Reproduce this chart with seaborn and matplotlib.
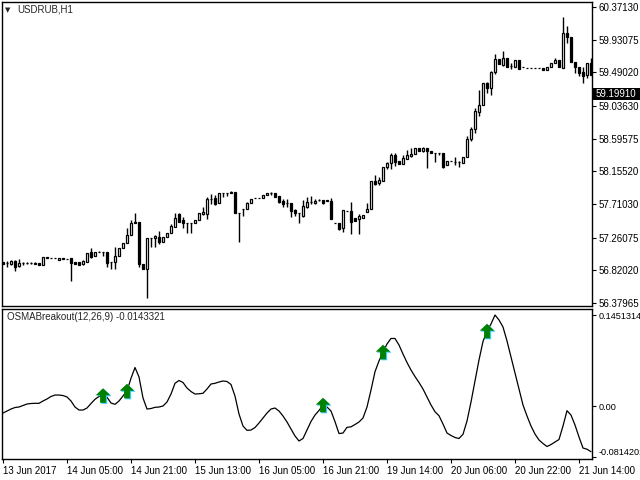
import matplotlib
matplotlib.use("Agg")
import matplotlib.pyplot as plt
import matplotlib.transforms as mtransforms
from matplotlib.path import Path
from matplotlib.patches import Rectangle
import numpy as np
import pandas as pd
import seaborn as sns

# USDRUB H1 candles (one per hour, 148 bars)
opens = [
    56.926, 56.917, 56.902, 56.950, 56.879, 56.915, 56.917, 56.915, 56.915, 56.915,
    56.892, 57.004, 56.991, 56.983, 56.960, 56.983, 56.969, 56.983, 56.937, 56.929,
    56.902, 56.937, 57.063, 57.018, 57.072, 57.072, 57.072, 56.937, 56.929, 57.014,
    57.126, 57.185, 57.297, 57.476, 57.476, 56.902, 56.834, 57.252, 57.252, 57.266,
    57.206, 57.266, 57.320, 57.401, 57.576, 57.499, 57.455, 57.455, 57.455, 57.499,
    57.580, 57.576, 57.778, 57.800, 57.724, 57.867, 57.867, 57.877, 57.881, 57.589,
    57.643, 57.643, 57.724, 57.792, 57.792, 57.792, 57.832, 57.859, 57.867, 57.823,
    57.759, 57.724, 57.732, 57.634, 57.589, 57.553, 57.678, 57.738, 57.728, 57.769,
    57.769, 57.769, 57.759, 57.455, 57.455, 57.387, 57.620, 57.620, 57.530, 57.508,
    57.530, 57.611, 57.643, 58.029, 57.994, 58.029, 58.210, 58.264, 58.376, 58.295,
    58.254, 58.318, 58.362, 58.389, 58.466, 58.434, 58.466, 58.434, 58.406, 58.406,
    58.406, 58.241, 58.299, 58.285, 58.285, 58.264, 58.353, 58.587, 58.722, 58.959,
    59.050, 59.350, 59.275, 59.499, 59.666, 59.589, 59.680, 59.576, 59.558, 59.657,
    59.558, 59.553, 59.553, 59.549, 59.545, 59.545, 59.522, 59.558, 59.612, 59.657,
    59.545, 60.017, 59.963, 59.634, 59.566, 59.499, 59.454, 59.612]
closes = [
    56.906, 56.915, 56.946, 56.865, 56.915, 56.917, 56.915, 56.915, 56.910, 56.892,
    57.004, 56.991, 56.983, 56.983, 56.983, 56.969, 56.973, 56.915, 56.902, 56.892,
    56.946, 57.058, 57.004, 57.072, 57.072, 57.072, 56.923, 56.937, 57.014, 57.126,
    57.193, 57.297, 57.463, 57.455, 56.902, 56.834, 57.252, 57.252, 57.283, 57.206,
    57.266, 57.320, 57.418, 57.522, 57.476, 57.455, 57.455, 57.455, 57.499, 57.589,
    57.607, 57.778, 57.778, 57.711, 57.867, 57.867, 57.867, 57.859, 57.597, 57.589,
    57.643, 57.724, 57.778, 57.792, 57.792, 57.836, 57.859, 57.859, 57.805, 57.746,
    57.711, 57.724, 57.624, 57.589, 57.589, 57.692, 57.738, 57.738, 57.759, 57.769,
    57.732, 57.751, 57.516, 57.455, 57.378, 57.634, 57.620, 57.476, 57.490, 57.553,
    57.562, 57.647, 58.025, 57.984, 58.038, 58.210, 58.272, 58.376, 58.285, 58.254,
    58.331, 58.376, 58.389, 58.466, 58.434, 58.466, 58.434, 58.406, 58.406, 58.406,
    58.218, 58.299, 58.299, 58.285, 58.285, 58.344, 58.587, 58.722, 58.969, 59.050,
    59.350, 59.275, 59.499, 59.666, 59.603, 59.680, 59.558, 59.576, 59.657, 59.531,
    59.558, 59.553, 59.553, 59.549, 59.545, 59.522, 59.558, 59.620, 59.657, 59.558,
    60.017, 59.963, 59.626, 59.558, 59.485, 59.441, 59.612, 59.454]
highs = [
    56.933, 56.946, 56.960, 56.960, 56.969, 56.939, 56.933, 56.933, 56.929, 56.915,
    57.004, 57.004, 56.991, 56.983, 56.987, 56.983, 56.973, 56.983, 56.937, 56.929,
    56.960, 57.058, 57.126, 57.072, 57.080, 57.072, 57.072, 56.937, 57.139, 57.126,
    57.193, 57.387, 57.499, 57.589, 57.476, 56.902, 57.252, 57.252, 57.297, 57.351,
    57.266, 57.320, 57.441, 57.589, 57.589, 57.535, 57.455, 57.455, 57.499, 57.589,
    57.678, 57.813, 57.850, 57.836, 57.867, 57.867, 57.867, 57.890, 57.881, 57.589,
    57.643, 57.746, 57.778, 57.792, 57.792, 57.836, 57.859, 57.877, 57.867, 57.823,
    57.778, 57.778, 57.732, 57.647, 57.589, 57.769, 57.805, 57.823, 57.778, 57.778,
    57.769, 57.769, 57.792, 57.455, 57.455, 57.634, 57.620, 57.738, 57.530, 57.576,
    57.562, 57.724, 58.025, 58.106, 58.083, 58.210, 58.285, 58.398, 58.406, 58.295,
    58.376, 58.443, 58.466, 58.466, 58.466, 58.479, 58.466, 58.434, 58.406, 58.406,
    58.406, 58.299, 58.299, 58.344, 58.299, 58.344, 58.632, 58.749, 59.005, 59.252,
    59.350, 59.364, 59.512, 59.737, 59.666, 59.778, 59.680, 59.612, 59.657, 59.657,
    59.558, 59.553, 59.553, 59.549, 59.545, 59.545, 59.558, 59.620, 59.680, 59.657,
    60.232, 60.115, 59.963, 59.634, 59.566, 59.558, 59.612, 59.680]
lows = [
    56.899, 56.869, 56.892, 56.811, 56.861, 56.892, 56.899, 56.899, 56.899, 56.892,
    56.892, 56.991, 56.983, 56.983, 56.960, 56.969, 56.969, 56.681, 56.902, 56.892,
    56.892, 56.937, 56.987, 57.018, 57.065, 57.014, 56.869, 56.834, 56.834, 57.014,
    57.126, 57.185, 57.297, 57.455, 56.861, 56.834, 56.443, 57.139, 57.139, 57.175,
    57.206, 57.266, 57.320, 57.401, 57.476, 57.387, 57.320, 57.328, 57.455, 57.499,
    57.566, 57.508, 57.711, 57.701, 57.724, 57.813, 57.823, 57.859, 57.597, 57.206,
    57.553, 57.643, 57.724, 57.792, 57.792, 57.792, 57.832, 57.836, 57.805, 57.724,
    57.678, 57.670, 57.543, 57.553, 57.463, 57.535, 57.657, 57.715, 57.715, 57.759,
    57.715, 57.751, 57.516, 57.455, 57.364, 57.341, 57.620, 57.306, 57.490, 57.306,
    57.530, 57.611, 57.643, 57.967, 57.971, 58.029, 58.183, 58.183, 58.227, 58.254,
    58.254, 58.318, 58.353, 58.389, 58.434, 58.420, 58.196, 58.406, 58.285, 58.376,
    58.204, 58.241, 58.299, 58.241, 58.218, 58.264, 58.344, 58.568, 58.676, 58.901,
    59.050, 59.207, 59.185, 59.468, 59.603, 59.576, 59.558, 59.531, 59.558, 59.531,
    59.558, 59.553, 59.553, 59.549, 59.545, 59.522, 59.522, 59.558, 59.612, 59.558,
    59.545, 59.890, 59.626, 59.485, 59.441, 59.342, 59.410, 59.454]

# OSMABreakout(12,26,9) value per bar
osma = [
    -0.0112, -0.0080, -0.0048, -0.0024, -0.0016, 0.0008, 0.0032, 0.0040, 0.0043, 0.0043,
    0.0080, 0.0112, 0.0152, 0.0175, 0.0175, 0.0167, 0.0144, 0.0080, -0.0016, -0.0064,
    -0.0064, -0.0032, 0.0040, 0.0107, 0.0152, 0.0167, 0.0139, 0.0048, 0.0027, 0.0080,
    0.0159, 0.0239, 0.0442, 0.0614, 0.0463, 0.0128, -0.0048, -0.0040, -0.0021, -0.0016,
    0.0000, 0.0064, 0.0191, 0.0362, 0.0407, 0.0375, 0.0287, 0.0231, 0.0191, 0.0195,
    0.0203, 0.0271, 0.0351, 0.0362, 0.0383, 0.0399, 0.0391, 0.0343, 0.0159, -0.0128,
    -0.0319, -0.0388, -0.0383, -0.0343, -0.0271, -0.0191, -0.0112, -0.0048, -0.0032, -0.0080,
    -0.0159, -0.0255, -0.0367, -0.0478, -0.0558, -0.0518, -0.0383, -0.0247, -0.0144, -0.0072,
    0.0016, -0.0016, -0.0080, -0.0250, -0.0439, -0.0431, -0.0340, -0.0332, -0.0295, -0.0255,
    -0.0191, -0.0016, 0.0255, 0.0547, 0.0718, 0.0861, 0.0989, 0.1077, 0.1077, 0.0973,
    0.0829, 0.0694, 0.0574, 0.0470, 0.0375, 0.0271, 0.0144, 0.0016, -0.0091, -0.0155,
    -0.0287, -0.0431, -0.0470, -0.0502, -0.0518, -0.0451, -0.0239, 0.0064, 0.0399, 0.0734,
    0.1029, 0.1196, 0.1308, 0.1451, 0.1372, 0.1260, 0.1037, 0.0782, 0.0526, 0.0271,
    0.0016, -0.0159, -0.0319, -0.0447, -0.0542, -0.0598, -0.0646, -0.0614, -0.0574, -0.0534,
    -0.0319, -0.0075, -0.0144, -0.0303, -0.0494, -0.0670, -0.0689, -0.0729]

signal_bars = [25, 31, 80, 95, 121]

price_ticks = [60.37130, 59.93075, 59.49020, 59.03630, 58.59575,
               58.15520, 57.71030, 57.26075, 56.82020, 56.37965]
osma_ticks = [0.1451314, 0.0, -0.0814202]
osma_tick_labels = ["0.1451314", "0.00", "-0.0814202"]
date_bars = [0, 16, 32, 48, 64, 80, 96, 112, 128, 144]
date_labels = ["13 Jun 2017", "14 Jun 05:00", "14 Jun 21:00", "15 Jun 13:00",
               "16 Jun 05:00", "16 Jun 21:00", "19 Jun 14:00", "20 Jun 06:00",
               "20 Jun 22:00", "21 Jun 14:00"]
last_price = 59.19910

sns.set_theme(style="white")
plt.rcParams['font.family'] = ['Liberation Sans', 'DejaVu Sans']

df = pd.DataFrame({"bar": np.arange(len(closes)), "open": opens, "high": highs,
                   "low": lows, "close": closes, "osma": osma})
df["bottom"] = df[["open", "close"]].min(axis=1)
df["height"] = (df["close"] - df["open"]).abs()
df["up"] = df["close"] >= df["open"]

fig = plt.figure(figsize=(6.4, 4.8), dpi=100)
ax = fig.add_axes([2 / 640, 1 - 306 / 480, 590 / 640, 304 / 480])
ax2 = fig.add_axes([2 / 640, 1 - 459 / 480, 590 / 640, 150 / 480])

# candles
ax.vlines(df["bar"], df["low"], df["high"], color="black", lw=1, zorder=1)
ax.bar(df["bar"], df["height"], bottom=df["bottom"], width=0.55,
       color=np.where(df["up"], "white", "black"), edgecolor="black",
       linewidth=0.9, zorder=2)

ax.set_xlim(-0.25, 147.25)
ax.set_ylim(56.3393, 60.4387)
ax.set_xticks([])
ax.yaxis.tick_right()
ax.set_yticks(price_ticks)
ax.set_yticklabels([f"{v:.5f}" for v in price_ticks])
ax.tick_params(axis="y", length=3, width=0.8, pad=2, labelsize=7, colors="black",
               direction="out", right=True)

# oscillator
sns.lineplot(data=df, x="bar", y="osma", ax=ax2, color="black", lw=0.9)

arrow = Path([(0, 0.5), (0.5, 0.02), (0.2, 0.02), (0.2, -0.5), (-0.2, -0.5),
              (-0.2, 0.02), (-0.5, 0.02), (0, 0.5)])
sig = df.loc[signal_bars]
shadow = mtransforms.offset_copy(ax2.transData, fig=fig, x=1.2, y=-1.0, units="dots")
sns.scatterplot(x=sig["bar"], y=sig["osma"], ax=ax2, marker=arrow, s=110,
                color="#33ccff", edgecolor="none", transform=shadow, zorder=3)
sns.scatterplot(x=sig["bar"], y=sig["osma"], ax=ax2, marker=arrow, s=110,
                color="#008000", edgecolor="none", zorder=4)

ax2.set_xlim(-0.25, 147.25)
ax2.set_ylim(-0.0845, 0.1547)
ax2.set_xlabel("")
ax2.set_ylabel("")
ax2.yaxis.tick_right()
ax2.set_yticks(osma_ticks)
ax2.set_yticklabels(osma_tick_labels)
ax2.get_yticklabels()[-1].set_va("bottom")
ax2.tick_params(axis="y", length=3, width=0.8, pad=2, labelsize=6.6, colors="black",
                direction="out", right=True)
ax2.set_xticks(date_bars)
ax2.set_xticklabels(date_labels, ha="left")
ax2.tick_params(axis="x", length=3, width=0.8, pad=2, labelsize=7, colors="black",
                direction="out", bottom=True)

for a in (ax, ax2):
    for s in a.spines.values():
        s.set_color("black")
        s.set_linewidth(1)

# labels inside panels
fig.text(5 / 640, 1 - 10 / 480, "\u25bc", fontsize=5, va="center", ha="left",
         family="DejaVu Sans")
fig.text(17 / 640, 1 - 10 / 480, "USDRUB,H1", fontsize=7, va="center", ha="left")
fig.text(7 / 640, 1 - 317 / 480, "OSMABreakout(12,26,9) -0.0143321", fontsize=7,
         va="center", ha="left")

# current price tag
tag_y = ax.transData.transform((0, last_price))[1] / 480
fig.add_artist(Rectangle((593 / 640, tag_y - 6 / 480), 47 / 640, 12 / 480,
                         transform=fig.transFigure, facecolor="black", edgecolor="none"))
fig.text(596 / 640, tag_y, f"{last_price:.5f}", fontsize=7, color="white",
         va="center", ha="left")

fig.savefig("out.png", dpi=100, facecolor="white")
